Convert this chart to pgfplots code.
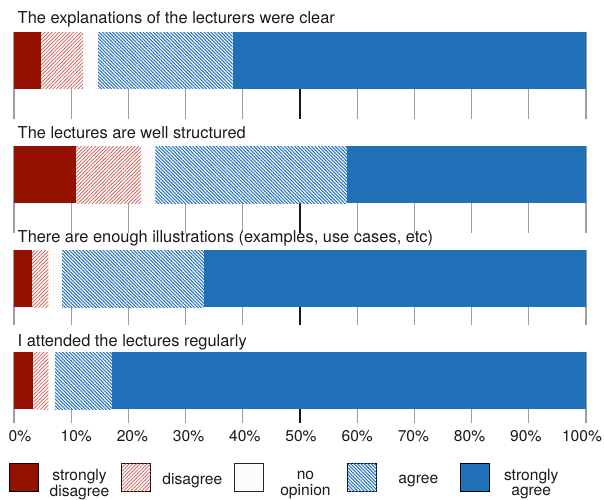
\documentclass[border=0pt]{standalone}
\usepackage{fontspec}
\setmainfont{TeX Gyre Heros}
\usepackage{pgfplots}
\pgfplotsset{compat=1.18}
\usetikzlibrary{patterns,patterns.meta}

\definecolor{sdis}{RGB}{148,17,0}
\definecolor{dis}{RGB}{210,80,70}
\definecolor{agr}{RGB}{40,115,195}
\definecolor{sagr}{RGB}{32,112,184}
\definecolor{nop}{RGB}{205,205,205}

\newcommand\fs{\fontsize{11.7pt}{11.25pt}\selectfont}
\newcommand\ft{\fontsize{12.3pt}{14pt}\selectfont}

\pgfplotsset{
  every axis title shift=0pt,
  sd/.style={fill=sdis, draw=none},
  di/.style={fill=white, draw=none, postaction={pattern={Lines[angle=45,distance=1.9pt,line width=0.5pt]}, pattern color=dis}},
  no/.style={fill=white, draw=none, postaction={pattern={Dots[distance=2pt,radius=0.25pt]}, pattern color=nop}},
  ag/.style={fill=white, draw=none, postaction={pattern={Lines[angle=-45,distance=1.8pt,line width=0.8pt]}, pattern color=agr}},
  sa/.style={fill=sagr, draw=none},
  panel/.style={
    scale only axis, width=429pt,
    xmin=0, xmax=100, ymin=0,
    xbar stacked, bar width=57,
    clip=false,
    axis line style={draw=none},
    ytick=\empty,
    xtick={0,10,...,100},
    xticklabel={\mbox{}},
    xmajorgrids,
    major grid style={draw=black!38, line width=0.8pt},
    major tick length=0pt,
    extra x ticks={50}, extra x tick labels={},
    extra x tick style={xmajorgrids=true, major grid style={draw=black!90, line width=1.6pt}},
    title style={at={(0,1)}, anchor=base west, inner sep=0pt, xshift=2.6pt, font=\ft, text=black!90},
  },
}

\begin{document}
\begin{tikzpicture}
\useasboundingbox (0,0) rectangle (453pt,-375pt);

% Panel 1
\begin{axis}[panel, at={(10.5pt,-24pt)}, anchor=north west, ymax=87, height=65.25pt,
  title={The explanations of the lecturers were clear}, title style={yshift=6.75pt}]
\addplot[sd] coordinates {(4.7,58.5)};
\addplot[di] coordinates {(7.4,58.5)};
\addplot[no] coordinates {(2.5,58.5)};
\addplot[ag] coordinates {(23.6,58.5)};
\addplot[sa] coordinates {(61.8,58.5)};
\end{axis}

% Panel 2
\begin{axis}[panel, at={(10.5pt,-109.5pt)}, anchor=north west, ymax=87, height=65.25pt,
  title={The lectures are well structured}, title style={yshift=6pt}]
\addplot[sd] coordinates {(10.8,58.5)};
\addplot[di] coordinates {(11.4,58.5)};
\addplot[no] coordinates {(2.5,58.5)};
\addplot[ag] coordinates {(33.6,58.5)};
\addplot[sa] coordinates {(41.7,58.5)};
\end{axis}

% Panel 3
\begin{axis}[panel, at={(10.5pt,-187.5pt)}, anchor=north west, ymax=75, height=56.25pt,
  title={There are enough illustrations (examples, use cases, etc)}, title style={yshift=6pt}]
\addplot[sd] coordinates {(3.1,46.5)};
\addplot[di] coordinates {(2.9,46.5)};
\addplot[no] coordinates {(2.4,46.5)};
\addplot[ag] coordinates {(24.9,46.5)};
\addplot[sa] coordinates {(66.7,46.5)};
\end{axis}

% Panel 4
\begin{axis}[panel, at={(10.5pt,-264pt)}, anchor=north west, ymax=71, height=53.25pt,
  title={I attended the lectures regularly}, title style={yshift=4.5pt}]
\addplot[sd] coordinates {(3.4,42.5)};
\addplot[di] coordinates {(2.6,42.5)};
\addplot[no] coordinates {(1.2,42.5)};
\addplot[ag] coordinates {(9.9,42.5)};
\addplot[sa] coordinates {(82.9,42.5)};
\end{axis}

% Tick labels of the bottom scale
\begin{axis}[at={(10.5pt,-264pt)}, anchor=north west, scale only axis, width=429pt, height=53.25pt,
  xmin=0, xmax=100, ymin=0, ymax=71,
  axis line style={draw=none}, ytick=\empty, major tick length=0pt,
  xtick={1.05,10.875,20.7,30.525,40.35,50.175,60.0,69.825,79.65,89.475,99.3},
  xticklabels={0\%,10\%,20\%,30\%,40\%,50\%,60\%,70\%,80\%,90\%,100\%},
  xticklabel style={font=\fs, text=black!90, yshift=-2pt}]
\end{axis}

% Legend
\begin{axis}[at={(6.75pt,-358pt)}, anchor=center, scale only axis, width=1pt, height=1pt,
  hide axis, xmin=0, xmax=1, ymin=0, ymax=1,
  legend columns=5,
  legend style={at={(0,0.5)}, anchor=west, draw=none, fill=none, inner sep=0pt,
    font=\fs, text=black!90,
    nodes={inner sep=0pt},
    /tikz/every odd column/.append style={column sep=4.5pt},
    /tikz/every even column/.append style={column sep=5pt}},
  legend image code/.code={\draw[#1] (0pt,-8.5pt) rectangle (21.75pt,12.5pt);}]
\addlegendimage{sd}
\addlegendentry{\makebox[53pt]{\begin{tabular}{@{}c@{}}strongly\\disagree\end{tabular}}}
\addlegendimage{di}
\addlegendentry{\makebox[53pt]{disagree}}
\addlegendimage{no, draw=black!85, line width=0.6pt}
\addlegendentry{\makebox[53pt]{\begin{tabular}{@{}c@{}}no\\opinion\end{tabular}}}
\addlegendimage{ag}
\addlegendentry{\makebox[53pt]{agree}}
\addlegendimage{sa}
\addlegendentry{\makebox[53pt]{\begin{tabular}{@{}c@{}}strongly\\agree\end{tabular}}}
\end{axis}
\end{tikzpicture}
\end{document}
